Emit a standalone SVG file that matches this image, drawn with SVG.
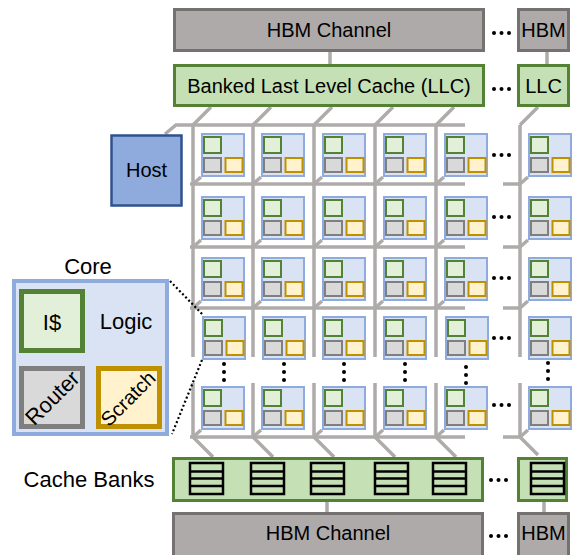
<svg xmlns="http://www.w3.org/2000/svg" xmlns:xlink="http://www.w3.org/1999/xlink" width="577" height="555" viewBox="0 0 577 555">
<style>
text{font-family:"Liberation Sans",Arial,sans-serif;fill:#000;}
.t20{font-size:20px;}
.t22{font-size:22px;}
.hbm{fill:#AEAAAA;stroke:#767171;stroke-width:3;}
.llc{fill:#C5E0B4;stroke:#548235;stroke-width:3;}
.mesh{fill:none;stroke:#AFABAB;stroke-width:3.5;stroke-linecap:butt;}
.dot{fill:#000;}
.bk rect,.bk path{fill:none;stroke:#000;stroke-width:2.5;}
.dotted{fill:none;stroke:#000;stroke-width:2.2;stroke-dasharray:2 2.4;}
</style>
<defs>
<g id="tile">
<rect x="1" y="1" width="42" height="42" fill="#DAE3F3" stroke="#8FAADC" stroke-width="2"/>
<rect x="3" y="4" width="17" height="16" fill="#E2F0D9" stroke="#548235" stroke-width="2"/>
<rect x="3" y="25" width="17" height="14" fill="#D9D9D9" stroke="#7F7F7F" stroke-width="2"/>
<rect x="24.5" y="25" width="17" height="14" fill="#FFF2CC" stroke="#BF9000" stroke-width="2"/>
</g>
<g id="bank" class="bk">
<rect x="0" y="0" width="33" height="31"/>
<path d="M0,8.5H33M0,15.5H33M0,23H33"/>
</g>
<g id="hdots"><circle cx="0" cy="0" r="2"/><circle cx="7.5" cy="0" r="2"/><circle cx="15" cy="0" r="2"/></g>
<g id="vdots"><circle cx="0" cy="0" r="2"/><circle cx="0" cy="8" r="2"/><circle cx="0" cy="16" r="2"/></g>
</defs>

<g id="connectors" class="mesh">
<path d="M330,51V65M547,51V65M327,501V514M544,501V514"/>
<path d="M165,134L176,125H465M190,184H465M190,247H465M190,308H465M190,437H465"/>
<path d="M503,184H520M503,247H520M503,308H520M503,437H520"/>
<path d="M193,125V357M253,125V357M314,125V357M375,125V357M436,125V357M520,125V357"/>
<path d="M193,383V437M253,383V437M314,383V437M375,383V437M436,383V437M520,383V437"/>
<path d="M193,125l18,-18M253,125l18,-18M314,125l18,-18M375,125l18,-18M436,125l18,-18M520,125l18,-18"/>
<path d="M193,184l8,-7M253,184l8,-7M314,184l8,-7M375,184l8,-7M436,184l8,-7M520,184l8,-7"/>
<path d="M193,247l8,-7M253,247l8,-7M314,247l8,-7M375,247l8,-7M436,247l8,-7M520,247l8,-7"/>
<path d="M193,308l8,-7M253,308l8,-7M314,308l8,-7M375,308l8,-7M436,308l8,-7M520,308l8,-7"/>
<path d="M193,437l8,-7M253,437l8,-7M314,437l8,-7M375,437l8,-7M436,437l8,-7M520,437l8,-7"/>
<path d="M193,437l20,20M253,437l20,20M314,437l20,20M375,437l20,20M436,437l20,20M520,437l18,18"/>
<path class="dotted" d="M170,281L203,315M202,360L172,434"/>
</g>

<g id="hbm-top">
<rect class="hbm" x="174.5" y="9.5" width="309" height="41"/>
<text class="t20" x="329" y="37" text-anchor="middle">HBM Channel</text>
</g>
<g id="hbm-top-small">
<rect class="hbm" x="518.5" y="9.5" width="50" height="41"/>
<text class="t20" x="543.5" y="37" text-anchor="middle">HBM</text>
</g>
<g id="llc">
<rect class="llc" x="174.5" y="65.5" width="309" height="40"/>
<text class="t20" x="329" y="93" text-anchor="middle">Banked Last Level Cache (LLC)</text>
</g>
<g id="llc-small">
<rect class="llc" x="518.5" y="65.5" width="50" height="40"/>
<text class="t20" x="543.5" y="93" text-anchor="middle">LLC</text>
</g>
<g id="ellipses" class="dot">
<use href="#hdots" x="494" y="33"/>
<use href="#hdots" x="494" y="89"/>
<use href="#hdots" x="494" y="155"/>
<use href="#hdots" x="494" y="217"/>
<use href="#hdots" x="494" y="278"/>
<use href="#hdots" x="494" y="338"/>
<use href="#hdots" x="494" y="405"/>
<use href="#hdots" x="491" y="480"/>
<use href="#hdots" x="491" y="536"/>
<use href="#vdots" x="224" y="364"/>
<use href="#vdots" x="284" y="364"/>
<use href="#vdots" x="344" y="364"/>
<use href="#vdots" x="405" y="364"/>
<use href="#vdots" x="466" y="367"/>
<use href="#vdots" x="548" y="363"/>
</g>

<g id="host">
<rect x="111.5" y="135.5" width="70" height="70" fill="#8FAADC" stroke="#2F528F" stroke-width="2.5"/>
<text class="t20" x="146.5" y="177" text-anchor="middle">Host</text>
</g>

<g id="tile-r1c1"><use href="#tile" x="201" y="133"/></g>
<g id="tile-r1c2"><use href="#tile" x="261" y="133"/></g>
<g id="tile-r1c3"><use href="#tile" x="322" y="133"/></g>
<g id="tile-r1c4"><use href="#tile" x="383" y="133"/></g>
<g id="tile-r1c5"><use href="#tile" x="444" y="133"/></g>
<g id="tile-r1c6"><use href="#tile" x="528" y="133"/></g>
<g id="tile-r2c1"><use href="#tile" x="201" y="196"/></g>
<g id="tile-r2c2"><use href="#tile" x="261" y="196"/></g>
<g id="tile-r2c3"><use href="#tile" x="322" y="196"/></g>
<g id="tile-r2c4"><use href="#tile" x="383" y="196"/></g>
<g id="tile-r2c5"><use href="#tile" x="444" y="196"/></g>
<g id="tile-r2c6"><use href="#tile" x="528" y="196"/></g>
<g id="tile-r3c1"><use href="#tile" x="201" y="257"/></g>
<g id="tile-r3c2"><use href="#tile" x="261" y="257"/></g>
<g id="tile-r3c3"><use href="#tile" x="322" y="257"/></g>
<g id="tile-r3c4"><use href="#tile" x="383" y="257"/></g>
<g id="tile-r3c5"><use href="#tile" x="444" y="257"/></g>
<g id="tile-r3c6"><use href="#tile" x="528" y="257"/></g>
<g id="tile-r4c1"><use href="#tile" x="202" y="316"/></g>
<g id="tile-r4c2"><use href="#tile" x="262" y="316"/></g>
<g id="tile-r4c3"><use href="#tile" x="322" y="316"/></g>
<g id="tile-r4c4"><use href="#tile" x="383" y="316"/></g>
<g id="tile-r4c5"><use href="#tile" x="445" y="316"/></g>
<g id="tile-r4c6"><use href="#tile" x="528" y="316"/></g>
<g id="tile-r5c1"><use href="#tile" x="201" y="386"/></g>
<g id="tile-r5c2"><use href="#tile" x="261" y="386"/></g>
<g id="tile-r5c3"><use href="#tile" x="322" y="386"/></g>
<g id="tile-r5c4"><use href="#tile" x="383" y="386"/></g>
<g id="tile-r5c5"><use href="#tile" x="444" y="386"/></g>
<g id="tile-r5c6"><use href="#tile" x="528" y="386"/></g>

<g id="core-detail">
<text class="t22" x="88" y="274" text-anchor="middle">Core</text>
<rect x="14" y="281" width="153" height="153" fill="#DAE3F3" stroke="#8FAADC" stroke-width="4"/>
<rect x="21.5" y="291.5" width="61" height="59" fill="#E2F0D9" stroke="#548235" stroke-width="5"/>
<text class="t22" x="52" y="330" text-anchor="middle">I$</text>
<text class="t22" x="126" y="329" text-anchor="middle">Logic</text>
<rect x="21.5" y="368.5" width="61" height="58" fill="#D9D9D9" stroke="#7F7F7F" stroke-width="5"/>
<text class="t22" x="0" y="8" text-anchor="middle" transform="translate(52,397.5) rotate(-45)">Router</text>
<rect x="98.5" y="368.5" width="61" height="58" fill="#FFF2CC" stroke="#BF9000" stroke-width="5"/>
<text x="0" y="7" text-anchor="middle" font-size="20" transform="translate(128,398.5) rotate(-45)">Scratch</text>
</g>

<g id="cache-banks-label">
<text class="t22" x="89" y="487" text-anchor="middle">Cache Banks</text>
</g>
<g id="cache-banks">
<rect class="llc" x="173.5" y="458.5" width="309" height="42"/>
<use href="#bank" x="190" y="463"/>
<use href="#bank" x="251" y="463"/>
<use href="#bank" x="311" y="463"/>
<use href="#bank" x="375" y="463"/>
<use href="#bank" x="433" y="463"/>
</g>
<g id="cache-bank-small">
<rect class="llc" x="518.5" y="458.5" width="48" height="42"/>
<use href="#bank" x="531" y="463"/>
</g>
<g id="hbm-bottom">
<rect class="hbm" x="173.5" y="513.5" width="309" height="50"/>
<text class="t20" x="328" y="540" text-anchor="middle">HBM Channel</text>
</g>
<g id="hbm-bottom-small">
<rect class="hbm" x="518.5" y="513.5" width="50" height="50"/>
<text class="t20" x="543.5" y="540" text-anchor="middle">HBM</text>
</g>
</svg>
